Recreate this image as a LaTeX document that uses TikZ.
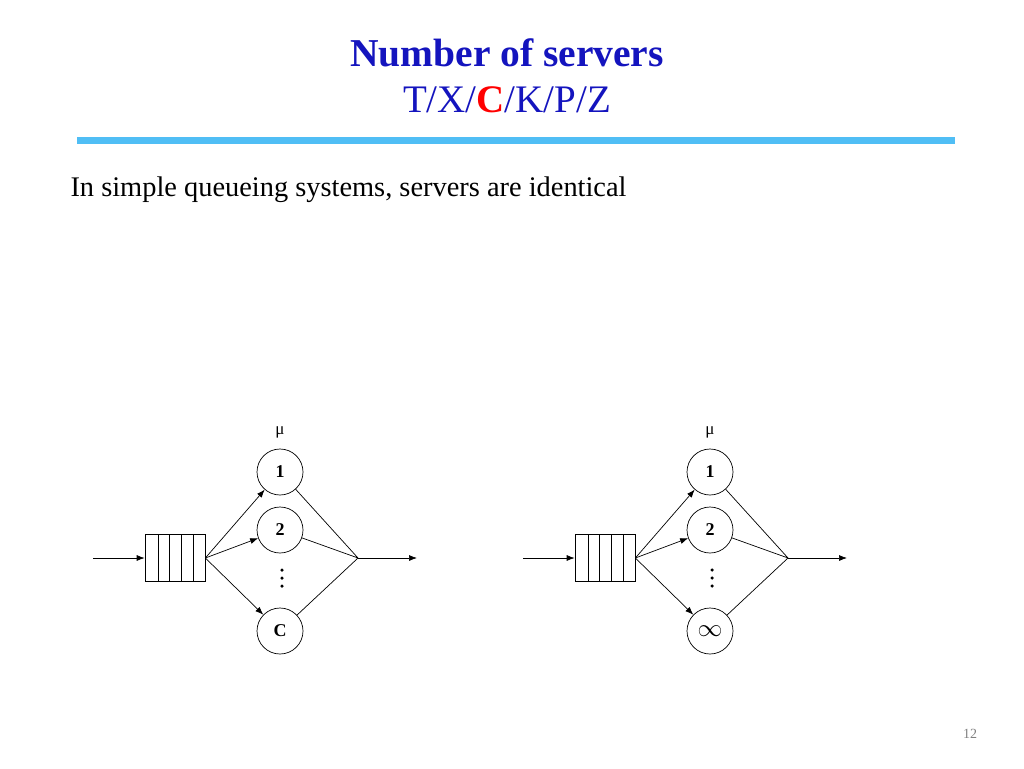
\documentclass[tikz,border=0pt]{standalone}
\usepackage{fontspec}
\setmainfont{Liberation Serif}
\usetikzlibrary{arrows.meta}
\definecolor{tblue}{RGB}{20,20,190}
\definecolor{bar}{RGB}{80,190,245}
\begin{document}
\begin{tikzpicture}[x=1pt,y=-1pt,
  srv/.style={circle,draw,line width=0.7pt,minimum size=46pt,inner sep=0pt,font=\fontsize{18}{18}\selectfont\bfseries},
  ln/.style={line width=0.7pt},
  dot/.style={circle,fill,inner sep=0pt,minimum size=3.5pt},
  arr/.style={ln,-{Latex[length=8pt,width=6pt]}}]
\useasboundingbox (0,0) rectangle (1024,768);
\node[font=\fontsize{39.5}{40}\selectfont\bfseries,text=tblue] (t1) at (507,53) {Number of servers};
\node[font=\fontsize{39}{40}\selectfont,text=tblue] (t2) at (507,100) {T/X/\textcolor{red}{\textbf{C}}/K/P/Z};
\fill[bar] (77,137) rectangle (955,144);
\node[anchor=west,font=\fontsize{28.4}{29}\selectfont] (body) at (67,190) {In simple queueing systems, servers are identical};
\node[font=\fontsize{14}{14}\selectfont,text=gray] (pg) at (970,734) {12};
\foreach \o/\last/\p in {0/C/L,430/{\fontsize{24}{24}\selectfont$\infty$}/R}{
  \begin{scope}[xshift=\o]
  \node[draw,ln,minimum width=60pt,minimum height=47pt,inner sep=0pt] (q\p) at (175,558) {};
  \foreach \xx in {158,169,181,193}\draw[line width=0.5pt] (\xx,535) -- (\xx,582);
  \coordinate (in\p) at (93,558);
  \draw[arr] (in\p) -- (q\p.west);
  \node[srv] (a\p) at (280,472) {1};
  \node[srv] (b\p) at (280,530) {2};
  \node[srv] (c\p) at (280,631) {\last};
  \node[font=\fontsize{17}{17}\selectfont] (mu\p) at (280,432) {μ};
  \node[dot] (d1\p) at (282,570) {};
  \node[dot] (d2\p) at (282,578) {};
  \node[dot] (d3\p) at (282,586) {};
  \coordinate (j\p) at (358,558);
  \coordinate (o\p) at (417,558);
  \draw[arr] (q\p.east) -- (a\p);
  \draw[arr] (q\p.east) -- (b\p);
  \draw[arr] (q\p.east) -- (c\p);
  \draw[ln] (a\p) -- (j\p) (b\p) -- (j\p) (c\p) -- (j\p);
  \draw[arr] (j\p) -- (o\p);
  \end{scope}}
\end{tikzpicture}
\end{document}
